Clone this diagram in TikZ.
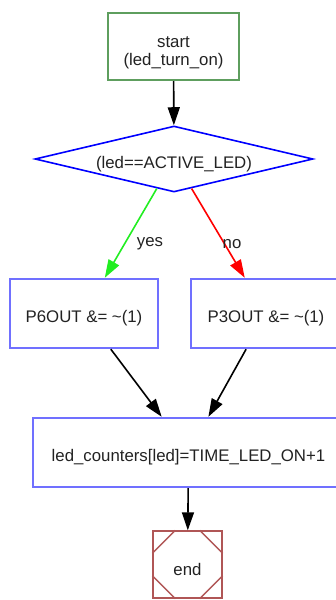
\documentclass[tikz,border=0pt]{standalone}
\usepackage{fontspec}
\setmainfont{Liberation Sans}
\usetikzlibrary{shapes.geometric,arrows.meta,calc}
\definecolor{startgreen}{HTML}{5E9E5E}
\definecolor{boxblue}{HTML}{7070FF}
\definecolor{endred}{HTML}{B05656}
\definecolor{yesgreen}{HTML}{22EE22}
\definecolor{txt}{HTML}{222222}
% set a node's text a little below its centre, keeping the node's size
\newcommand\lowtext[1]{\raisebox{-5pt}[\height][\depth]{#1}}
\tikzset{
  every node/.style={font=\fontsize{16.8}{19}\selectfont, text=txt},
  stepbox/.style={draw=boxblue, line width=2.4pt, rectangle, inner sep=0pt},
  startbox/.style={draw=startgreen, line width=2.4pt, rectangle, inner sep=0pt},
  decision/.style={draw=blue, line width=1.6pt, diamond, inner sep=0pt},
  endbox/.style={draw=endred, line width=1.4pt, rectangle, inner sep=0pt},
  flow/.style={line width=1.6pt, -{Triangle[length=18pt,width=12pt]}},
  lbl/.style={inner sep=0pt}
}
\begin{document}
\begin{tikzpicture}[x=1pt,y=-1pt]
\useasboundingbox (0,0) rectangle (336,600);
\clip (0,0) rectangle (336,600);
% start block
\node[startbox, minimum width=131pt, minimum height=67pt] (start) at (173.5,46.5)
  {\raisebox{-6pt}[\height][\depth]{\begin{tabular}{@{}c@{}}start\\[-1pt](led\_turn\_on)\end{tabular}}};
% condition
\node[decision, minimum width=278pt, minimum height=66pt] (dec) at (174,159)
  {\makebox[0pt]{\lowtext{(led==ACTIVE\_LED)}}};
% the two branches
\node[stepbox, minimum width=148pt, minimum height=69pt] (p6) at (84,313.5) {\lowtext{P6OUT \&= \textasciitilde(1)}};
\node[stepbox, minimum width=150pt, minimum height=69pt] (p3) at (266,313.5) {\lowtext{P3OUT \&= \textasciitilde(1)}};
% merge
\node[stepbox, minimum width=311pt, minimum height=69pt] (cnt) at (188.5,452.5) {\lowtext{led\_counters[led]=TIME\_LED\_ON+1}};
% end block: square with cut corners
\node[endbox, minimum width=69pt, minimum height=67pt] (fin) at (187.5,564.5) {\lowtext{end}};
\draw[endred, line width=1.4pt]
  ($(fin.north west)+(23,0)$) -- ($(fin.north west)+(0,23)$)
  ($(fin.north east)+(-23,0)$) -- ($(fin.north east)+(0,23)$)
  ($(fin.south west)+(23,0)$) -- ($(fin.south west)+(0,-23)$)
  ($(fin.south east)+(-23,0)$) -- ($(fin.south east)+(0,-23)$);
% connectors
\draw[flow] (start) -- (dec);
\draw[flow, yesgreen] (dec) -- (p6);
\draw[flow, red] (dec) -- (p3);
\draw[flow] (p6) -- (cnt);
\draw[flow] (p3) -- (cnt);
\draw[flow] (cnt) -- (fin);
% branch labels
\node[lbl] (yes) at (150,244) {yes};
\node[lbl] (no) at (232,244) {no};
\end{tikzpicture}
\end{document}
